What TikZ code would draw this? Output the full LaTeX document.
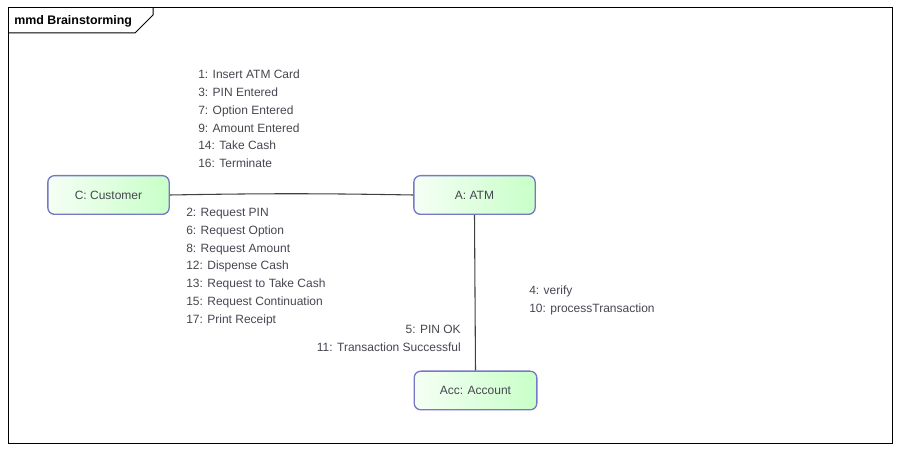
\documentclass[tikz,border=0pt]{standalone}
\usepackage{fontspec}
\setmainfont{Liberation Sans}
\usetikzlibrary{positioning}
\definecolor{objline}{RGB}{120,120,200}
\definecolor{objfill}{RGB}{200,255,200}
\definecolor{msgtext}{RGB}{70,70,80}
\tikzset{
  obj/.style={draw=objline, line width=1pt, rounded corners=5pt,
    left color=green!4!white, right color=objfill,
    minimum width=91pt, minimum height=29pt, text=msgtext,
    font=\fontsize{9}{11}\selectfont},
  msg/.style={inner sep=0pt, align=left, text=msgtext,
    font=\fontsize{9}{13.3}\selectfont},
  link/.style={draw=black!75, line width=0.8pt}
}
\begin{document}
\begin{tikzpicture}[x=0.75pt, y=-0.75pt]
 			\useasboundingbox (0,0) rectangle (901,452);
 			%% frame and title tab
 			\draw[line width=0.75pt] (8,8) rectangle (892,444);
 			\draw[line width=0.75pt] (8,33) -- (135,33) -- (153,15) -- (153,8);
 			\node[anchor=west, inner sep=0pt, font=\bfseries\fontsize{9.3}{11}\selectfont]
 				(title) at (14,21) {mmd Brainstorming};
 			%% objects
 			\node[obj] (cust) at (108.5,195) {C: Customer};
 			\node[obj] (atm) at (474.5,195) {A: ATM};
 			\node[obj, minimum width=92pt] (acc) at (475.5,390.5) {Acc: Account};
 			%% links
 			\draw[link] (cust.east) to[bend left=1] (atm.west);
 			\draw[link] (atm.south) -- (acc.north);
 			%% messages
 			\node[msg, anchor=north west] (m1) at (198,70)
 				{1: Insert ATM Card\\3: PIN Entered\\7: Option Entered\\
 				 9: Amount Entered\\14: Take Cash\\16: Terminate};
 			\node[msg, anchor=north west] (m2) at (186,208)
 				{2: Request PIN\\6: Request Option\\8: Request Amount\\
 				 12: Dispense Cash\\13: Request to Take Cash\\
 				 15: Request Continuation\\17: Print Receipt};
 			\node[msg, anchor=north west] (m3) at (529,286)
 				{4: verify\\10: processTransaction};
 			\node[msg, anchor=north east, align=right] (m4) at (461,325)
 				{5: PIN OK\\11: Transaction Successful};
\end{tikzpicture}
\end{document}
